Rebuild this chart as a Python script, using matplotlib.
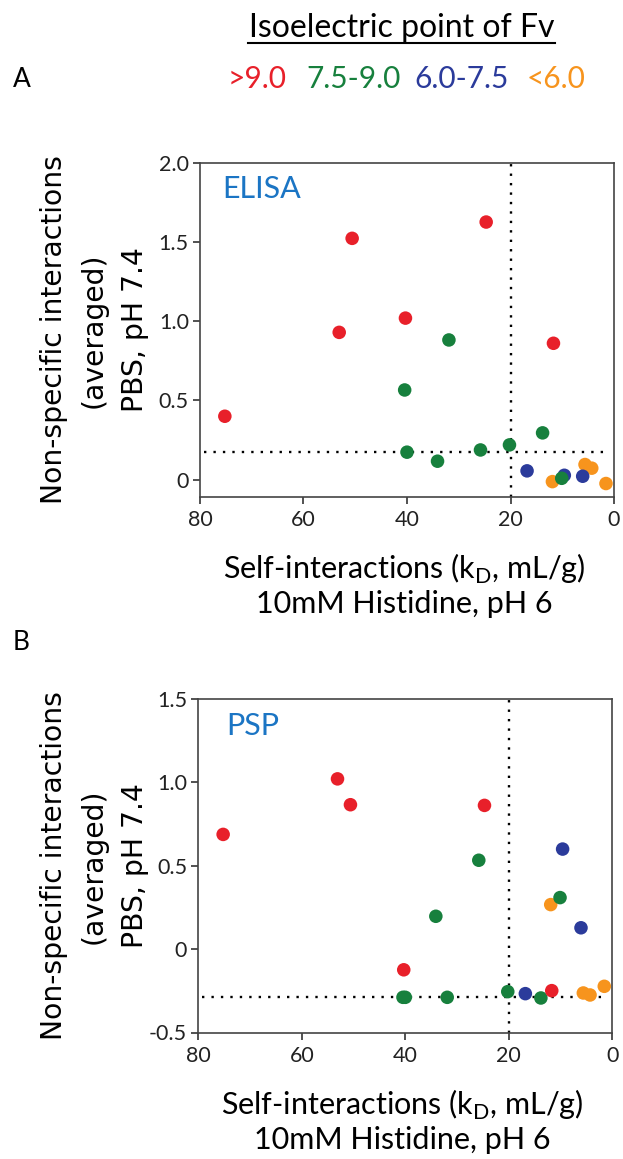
import numpy as np
import matplotlib
matplotlib.use("Agg")
import matplotlib.pyplot as plt
from matplotlib.ticker import FixedLocator, FixedFormatter

plt.rcParams['font.family'] = ['Lato', 'DejaVu Sans']

# self-interactions kD (mL/g), same antibodies in both panels
red_x = [75.2, 53.1, 50.6, 40.3, 24.7, 11.7]
green_x = [40.45, 40.0, 34.1, 31.9, 25.8, 20.2, 13.8, 10.1]
blue_x = [16.8, 9.6, 6.05]
orange_x = [11.9, 5.6, 4.3, 1.55]

# ELISA non-specific interactions
elisa_red = [0.40, 0.93, 1.524, 1.02, 1.627, 0.861]
elisa_green = [0.566, 0.173, 0.116, 0.882, 0.187, 0.219, 0.295, 0.008]
elisa_blue = [0.055, 0.027, 0.021]
elisa_orange = [-0.013, 0.095, 0.072, -0.025]

# PSP non-specific interactions
psp_red = [0.688, 1.021, 0.866, -0.124, 0.862, -0.249]
psp_green = [-0.289, -0.289, 0.197, -0.289, 0.533, -0.255, -0.293, 0.309]
psp_blue = [-0.267, 0.60, 0.128]
psp_orange = [0.267, -0.263, -0.275, -0.223]

elisa_cut = 0.173
psp_cut = -0.289
kd_cut = 20

legend_labels = ['>9.0', '7.5-9.0', '6.0-7.5', '<6.0']

c_red = '#e8202a'
c_green = '#17803d'
c_blue = '#2b3b9b'
c_orange = '#f7941d'
c_label = '#1b75c4'

W, H = 623, 1159
fig = plt.figure(figsize=(W / 100, H / 100), dpi=100)

def px(x, y):
    # pixel position (from top-left) -> figure fraction
    return x / W, 1 - y / H

def panel(left, top, ys, cut, ylim, yticks, ylabels, name, name_pos):
    x0, y1 = px(left, top)
    ax = fig.add_axes([x0, y1 - 333.5 / H, 414 / W, 333.5 / H])
    groups = [(orange_x, ys[3], c_orange), (blue_x, ys[2], c_blue),
              (green_x, ys[1], c_green), (red_x, ys[0], c_red)]
    for i, (gx, gy, col) in enumerate(groups):
        ax.scatter(gx, gy, s=95, color=col, edgecolors='none', zorder=3 + i)
    ax.axhline(cut, color='black', ls=(0, (1, 3)), lw=1.7, zorder=2, xmin=0.01, xmax=0.985)
    ax.axvline(kd_cut, color='black', ls=(0, (1, 3)), lw=1.7, zorder=2)
    ax.set_xlim(80, 0)
    ax.set_ylim(*ylim)
    ax.xaxis.set_major_locator(FixedLocator([80, 60, 40, 20, 0]))
    ax.yaxis.set_major_locator(FixedLocator(yticks))
    ax.yaxis.set_major_formatter(FixedFormatter(ylabels))
    ax.tick_params(direction='out', length=5, width=1.1, labelsize=15.5, colors='#222222')
    ax.tick_params(axis='x', pad=5)
    ax.tick_params(axis='y', pad=3)
    for sp in ax.spines.values():
        sp.set_color('#444444')
        sp.set_linewidth(1.2)
    ax.text(name_pos[0], name_pos[1], name, transform=ax.transAxes, fontsize=22,
            color=c_label, va='top', ha='left')

    # axis titles, one text per line
    cy = top + 333.5 / 2
    ylines = ['Non-specific interactions', '(averaged)', 'PBS, pH 7.4']
    for line, bx in zip(ylines, [62, 102, 143]):
        fig.text(*px(bx, cy), line, family='DejaVu Sans', fontsize=20.3, rotation=90,
                 rotation_mode='anchor', ha='center', va='baseline')
    xlines = ['Self-interactions (k$_\\mathregular{D}$, mL/g)', '10mM Histidine, pH 6']
    for line, by in zip(xlines, [82, 117]):
        fig.text(*px(left + 204, top + 333.5 + by), line, fontsize=22,
                 ha='center', va='baseline')
    return ax

panel(200, 163, [elisa_red, elisa_green, elisa_blue, elisa_orange],
      elisa_cut, (-0.107, 2.0), [0, 0.5, 1.0, 1.5, 2.0], ['0', '0.5', '1.0', '1.5', '2.0'],
      'ELISA', (0.053, 0.965))
panel(198.3, 699, [psp_red, psp_green, psp_blue, psp_orange],
      psp_cut, (-0.5, 1.5), [-0.5, 0, 0.5, 1.0, 1.5], ['-0.5', '0', '0.5', '1.0', '1.5'],
      'PSP', (0.068, 0.96))

fig.text(*px(401.5, 37), 'Isoelectric point of Fv', fontsize=23, ha='center', va='baseline')
fig.add_artist(plt.Line2D([248 / W, 555 / W], [1 - 42.5 / H, 1 - 42.5 / H], color='black', lw=1.5))
fig.text(*px(13, 87), 'A', fontsize=19, va='baseline')
fig.text(*px(13, 650), 'B', fontsize=19, va='baseline')

for txt, col, xc in zip(legend_labels, [c_red, c_green, c_blue, c_orange],
                        [257.5, 353.5, 461.5, 556]):
    fig.text(*px(xc, 88), txt, fontsize=21.5, color=col, ha='center', va='baseline')

fig.savefig('out.png', dpi=100)
